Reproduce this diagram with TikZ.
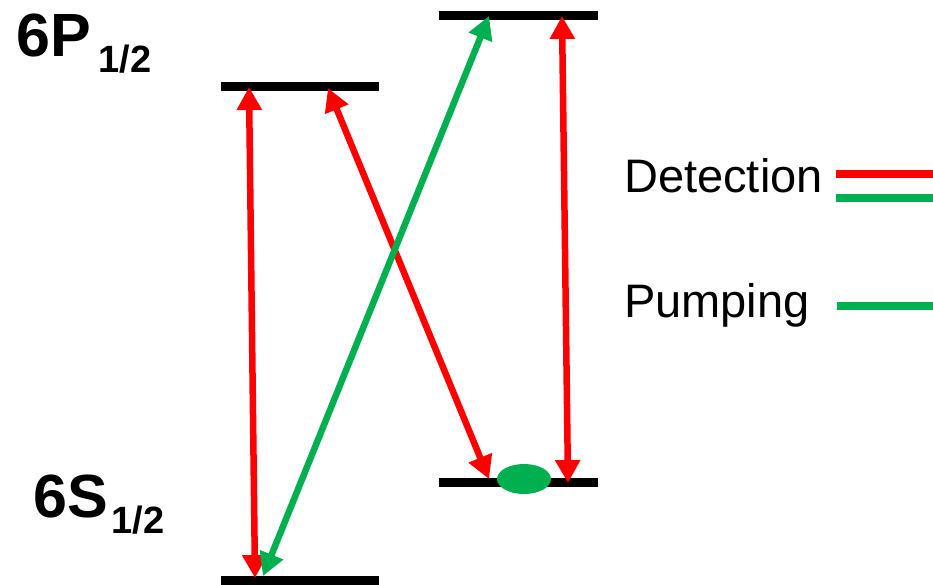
\documentclass[tikz,border=0pt]{standalone}
\usepackage{fontspec}
\setmainfont{Liberation Sans}
\usetikzlibrary{arrows.meta,shapes.geometric}
\definecolor{myred}{HTML}{FF0000}
\definecolor{mygreen}{HTML}{00B050}
\tikzset{
  level/.style={line width=9pt, black},
  trans/.style={line width=6.5pt, {Triangle[length=23pt,width=24pt]}-{Triangle[length=23pt,width=24pt]}},
  redtr/.style={trans, myred},
  greentr/.style={trans, mygreen},
  leg/.style={line width=8pt},
  lbl/.style={anchor=base west, inner sep=0pt, font=\fontsize{47}{47}\selectfont}
}
\begin{document}
\begin{tikzpicture}[x=1pt,y=-1pt]
\useasboundingbox (0,0) rectangle (933,585);
% level endpoints
\coordinate (LPa) at (221,86.5); \coordinate (LPb) at (379,86.5);
\coordinate (LSa) at (221,580); \coordinate (LSb) at (379,580);
\coordinate (RPa) at (439,15.5); \coordinate (RPb) at (598,15.5);
\coordinate (RSa) at (439,482); \coordinate (RSb) at (598,482);
\draw[level] (LPa) -- (LPb);
\draw[level] (LSa) -- (LSb);
\draw[level] (RPa) -- (RPb);
\draw[level] (RSa) -- (RSb);
% arrow ends
\coordinate (a1t) at (249,87); \coordinate (a1b) at (255,578);
\coordinate (a2t) at (328,88); \coordinate (a2b) at (489,479);
\coordinate (a3t) at (562,16); \coordinate (a3b) at (568,483);
\coordinate (gt) at (489,16); \coordinate (gb) at (263,576);
\draw[redtr] (a1t) -- (a1b);
\draw[redtr] (a2t) -- (a2b);
\draw[redtr] (a3t) -- (a3b);
\draw[greentr] (gt) -- (gb);
\node[ellipse, fill=mygreen, minimum width=54pt, minimum height=30pt, inner sep=0pt] (pop) at (524,479) {};
% labels
\node[anchor=base west, inner sep=0pt] (P) at (16,57) {\fontsize{61}{61}\selectfont\bfseries 6P\kern 8pt\raisebox{-16pt}{\fontsize{38}{38}\selectfont 1/2}};
\node[anchor=base west, inner sep=0pt] (S) at (33,517) {\fontsize{61}{61}\selectfont\bfseries 6S\kern 4pt\raisebox{-16pt}{\fontsize{38}{38}\selectfont 1/2}};
% legend
\node[lbl] (det) at (624,193) {Detection};
\node[lbl] (pum) at (624,317) {Pumping};
\coordinate (d1a) at (836,174); \coordinate (d1b) at (933,174);
\coordinate (d2a) at (836,198); \coordinate (d2b) at (933,198);
\coordinate (p1a) at (837,306); \coordinate (p1b) at (933,306);
\draw[leg, myred] (d1a) -- (d1b);
\draw[leg, mygreen] (d2a) -- (d2b);
\draw[leg, mygreen] (p1a) -- (p1b);
\end{tikzpicture}
\end{document}
